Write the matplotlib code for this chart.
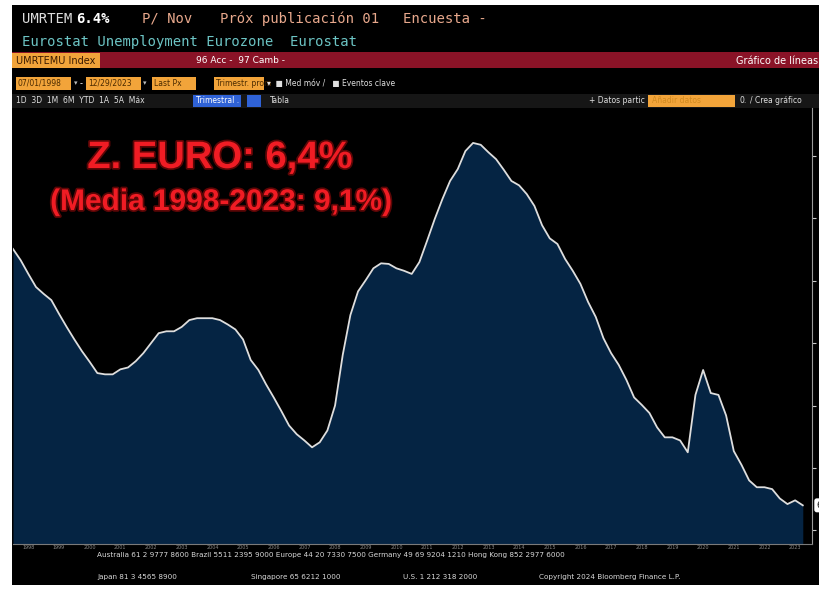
import numpy as np
import pandas as pd
import matplotlib.pyplot as plt
import matplotlib.patheffects as pe
from matplotlib.patches import Rectangle

W, H = 820, 594

# Eurozone unemployment rate (%), quarterly 1998Q1 - 2023Q4
periods = pd.period_range('1998Q1', '2023Q4', freq='Q')
rate = [10.51, 10.33, 10.11, 9.90, 9.79, 9.69, 9.47, 9.26,
        9.06, 8.87, 8.70, 8.52, 8.50, 8.50, 8.58, 8.61,
        8.71, 8.84, 9.00, 9.16, 9.19, 9.19, 9.26, 9.37,
        9.40, 9.40, 9.40, 9.37, 9.30, 9.22, 9.06, 8.73,
        8.57, 8.34, 8.13, 7.91, 7.68, 7.54, 7.44, 7.33,
        7.41, 7.60, 8.00, 8.81, 9.45, 9.83, 10.01, 10.20,
        10.28, 10.27, 10.20, 10.16, 10.11, 10.30, 10.64, 10.99,
        11.31, 11.60, 11.79, 12.08, 12.21, 12.18, 12.06, 11.95,
        11.78, 11.60, 11.53, 11.39, 11.20, 10.89, 10.68, 10.59,
        10.35, 10.16, 9.95, 9.66, 9.42, 9.08, 8.84, 8.65,
        8.41, 8.13, 8.01, 7.88, 7.65, 7.49, 7.49, 7.44,
        7.25, 8.17, 8.57, 8.20, 8.17, 7.84, 7.27, 7.05,
        6.80, 6.69, 6.69, 6.66, 6.51, 6.42, 6.48, 6.40]
years = list(range(1998, 2024))
y_ticks = [6, 7, 8, 9, 10, 11, 12]
last_label = '6.40'

title_main = 'Z. EURO: 6,4%'
title_sub = '(Media 1998-2023: 9,1%)'

x = np.arange(len(periods))

fig = plt.figure(figsize=(W / 100, H / 100), dpi=100, facecolor='white')


def box(x0, y0, x1, y1, color, z=-5):
    fig.patches.append(Rectangle((x0 / W, 1 - y1 / H), (x1 - x0) / W, (y1 - y0) / H,
                                 transform=fig.transFigure, facecolor=color,
                                 edgecolor='none', zorder=z))


def txt(px, py, s, color, size=7, **kw):
    fig.text(px / W, 1 - py / H, s, color=color, fontsize=size, va='center', **kw)


# terminal background and header bars
box(12, 5, 820, 585, 'black', z=-10)
box(12, 52, 820, 68, '#8a1327')
box(12, 53, 100, 68, '#f2a43a')
box(12, 94, 820, 108, '#161616')

mono = 'DejaVu Sans Mono'
txt(22, 19, 'UMRTEM', '#dcdcdc', 10, family=mono)
txt(76, 19, '6.4%', 'white', 10, family=mono, weight='bold')
txt(142, 19, 'P/ Nov', '#e8a88c', 10, family=mono)
txt(220, 19, 'Próx publicación 01', '#e8a88c', 10, family=mono)
txt(403, 19, 'Encuesta -', '#e8a88c', 10, family=mono)
txt(22, 42, 'Eurostat Unemployment Eurozone  Eurostat', '#6cc4c4', 10, family=mono)

txt(16, 60.5, 'UMRTEMU Index', '#3a1a00', 7)
txt(196, 60.5, '96 Acc -  97 Camb -', 'white', 6.5)
txt(818, 60.5, 'Gráfico de líneas', 'white', 7, ha='right')

# row 4: orange input boxes
for x0, x1, s in [(16, 71, '07/01/1998'), (86, 141, '12/29/2023'),
                  (152, 196, 'Last Px'), (214, 264, 'Trimestr. prom')]:
    box(x0, 77, x1, 90, '#f2a43a')
    txt(x0 + 2, 83.5, s, '#4a2a00', 5.5)
txt(74, 83.5, '▾', '#bbbbbb', 5)
txt(80, 83.5, '-', 'white', 6)
txt(143, 83.5, '▾', '#bbbbbb', 5)
txt(267, 83.5, '▾  ■ Med móv /   ■ Eventos clave', '#e0e0e0', 5.5)

# row 5: range buttons
txt(16, 101, '1D  3D  1M  6M  YTD  1A  5A  Máx', '#e0e0e0', 5.5)
box(193, 95, 241, 107, '#2f62d6')
txt(196, 101, 'Trimestral .', 'white', 5.5)
box(247, 95, 261, 107, '#2f62d6')
txt(270, 101, 'Tabla', '#e0e0e0', 5.5)
txt(589, 101, '+ Datos partic', '#e0e0e0', 5.5)
box(648, 95, 735, 107, '#f2a43a')
txt(652, 101, 'Añadir datos', '#d08a20', 5.5)
txt(740, 101, '0.', '#e0e0e0', 5.5)
txt(750, 101, '/ Crea gráfico', '#e0e0e0', 5.5)

# chart area
ax = fig.add_axes([13 / W, 1 - 544 / H, (812 - 13) / W, (544 - 108) / H])
ax.set_zorder(1)
ax.set_facecolor('black')
ax.fill_between(x, rate, 5.78, color='#052443', lw=0)
ax.plot(x, rate, color='#dedede', lw=1.3)
ax.set_xlim(0, 104.2)
ax.set_ylim(5.78, 12.77)

for side in ['top', 'left']:
    ax.spines[side].set_visible(False)
ax.spines['right'].set_color('#9a9a9a')
ax.spines['bottom'].set_color('#7a7a7a')
ax.spines['right'].set_linewidth(0.8)
ax.spines['bottom'].set_linewidth(0.8)

ax.yaxis.tick_right()
ax.set_yticks(y_ticks)
ax.set_yticklabels([f'{v:.2f}' for v in y_ticks])
ax.tick_params(axis='y', colors='#cccccc', labelsize=6, length=3, pad=3)
ax.set_xticks([4 * i + 2 for i in range(len(years))])
ax.set_xticklabels(years)
ax.tick_params(axis='x', colors='#8a8a8a', labelsize=3.5, length=0, pad=1)

ax.text(1.006, rate[-1], last_label, transform=ax.get_yaxis_transform(),
        fontsize=6, color='black', va='center', clip_on=False,
        bbox=dict(boxstyle='round,pad=0.3', fc='white', ec='none'))

# red overlay titles
glow = [pe.withStroke(linewidth=2.5, foreground='#5c0606')]
fig.text(220 / W, 1 - 158 / H, title_main, color='#f01c24', fontsize=27.5,
         weight='bold', family='Liberation Sans', ha='center', va='center',
         path_effects=glow, zorder=5)
fig.text(221 / W, 1 - 202 / H, title_sub, color='#f01c24', fontsize=21.5,
         weight='bold', family='Liberation Sans', ha='center', va='center',
         path_effects=glow, zorder=5)

# footer
foot1 = ('Australia 61 2 9777 8600 Brazil 5511 2395 9000 Europe 44 20 7330 7500 '
         'Germany 49 69 9204 1210 Hong Kong 852 2977 6000')
txt(97, 555, foot1, '#d8d8d8', 5.2)
txt(97, 577, 'Japan 81 3 4565 8900', '#d8d8d8', 5.2)
txt(251, 577, 'Singapore 65 6212 1000', '#d8d8d8', 5.2)
txt(403, 577, 'U.S. 1 212 318 2000', '#d8d8d8', 5.2)
txt(539, 577, 'Copyright 2024 Bloomberg Finance L.P.', '#d8d8d8', 5.2)

fig.savefig('out.png', dpi=100, facecolor='white')
